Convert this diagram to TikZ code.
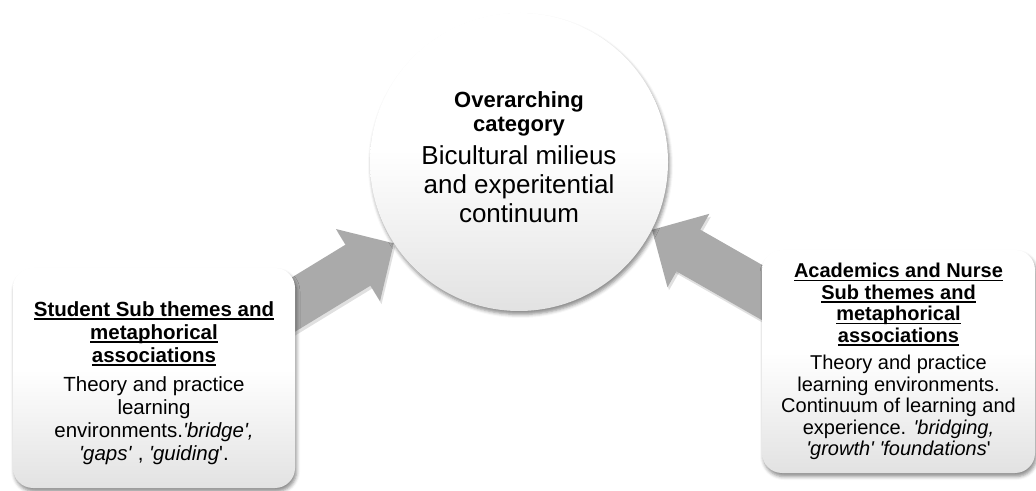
\documentclass[tikz,border=0pt]{standalone}
\usepackage{fontspec}
\setmainfont{Liberation Sans}
\usepackage{tikz}
\usetikzlibrary{arrows.meta,positioning,calc,backgrounds,shadows.blur}

\definecolor{arrowgray}{HTML}{AAAAAA}
\definecolor{boxbottom}{HTML}{E2E2E2}
\newcommand{\q}{\textquotesingle}
\newcommand{\uln}[1]{\setbox0\hbox{#1}\rlap{\vrule width\wd0 height -1.9pt depth 3.5pt}\box0}
\pgfdeclareverticalshading{whitefade}{100bp}{color(0bp)=(boxbottom); color(25bp)=(boxbottom); color(52bp)=(white); color(100bp)=(white)}

\tikzset{
  softshadow/.style={blur shadow={shadow xshift=1.5pt, shadow yshift=-3.5pt, shadow opacity=45, shadow blur radius=3.5pt}},
  themebox/.style={rounded corners=20pt, shading=whitefade, softshadow},
  themetext/.style={align=center, inner sep=0pt},
  bigarrow/.style={line width=48pt, draw=arrowgray, -{Triangle[length=42pt,width=82pt,fill=arrowgray]}},
  arrowshadow/.style={bigarrow, draw=black, -{Triangle[length=42pt,width=82pt,fill=black]}, opacity=.12, transform canvas={shift={(1.5pt,-3pt)}}},
}

\begin{document}
\begin{tikzpicture}[x=1pt,y=1pt]
      \useasboundingbox (0,0) rectangle (1036,490);
      % central category
      \node[circle, minimum size=298pt, shading=whitefade, softshadow] (circ) at (519,328) {};
      \node[themetext, font=\fontsize{22}{24}\selectfont\bfseries] (cathead) at ([yshift=48pt]circ.center) {Overarching\\category};
      \node[themetext, font=\fontsize{26}{29}\selectfont, below=9pt of cathead] (catbody) {Bicultural milieus\\and experitential\\continuum};
      % sub theme boxes
      \node[themebox, minimum width=282pt, minimum height=220pt] (student) at (154,112) {};
      \node[themetext, font=\fontsize{20.5}{23}\selectfont] (studenttext) at ([yshift=-5pt]student.center)
        {\textbf{\uln{Student Sub themes and}}\\ \textbf{\uln{metaphorical}}\\ \textbf{\uln{associations}}\\[6pt]
         Theory and practice\\ learning\\ environments.\textit{\q bridge\q,}\\ \textit{\q gaps\q} , \textit{\q guiding}\q.};
      \node[themebox, minimum width=273pt, minimum height=223pt] (academic) at (898.5,128.5) {};
      \node[themetext, font=\fontsize{20}{21.5}\selectfont] (academictext) at (academic.center)
        {\textbf{\uln{Academics and Nurse}}\\ \textbf{\uln{Sub themes and}}\\ \textbf{\uln{metaphorical}}\\ \textbf{\uln{associations}}\\[6pt]
         Theory and practice\\ learning environments.\\ Continuum of learning and\\ experience. \textit{\q bridging,}\\ \textit{\q growth\q\ \q foundations}\q};
      % arrows into the category
      \begin{scope}[on background layer]
        \coordinate (stail) at ($(circ.213)+(211.4:160)$);
        \coordinate (atail) at ($(circ.333)+(-29.7:160)$);
        \draw[arrowshadow] (stail) -- (circ.213);
        \draw[arrowshadow] (atail) -- (circ.333);
        \draw[bigarrow] (stail) -- (circ.213);
        \draw[bigarrow] (atail) -- (circ.333);
      \end{scope}
    \end{tikzpicture}
\end{document}
